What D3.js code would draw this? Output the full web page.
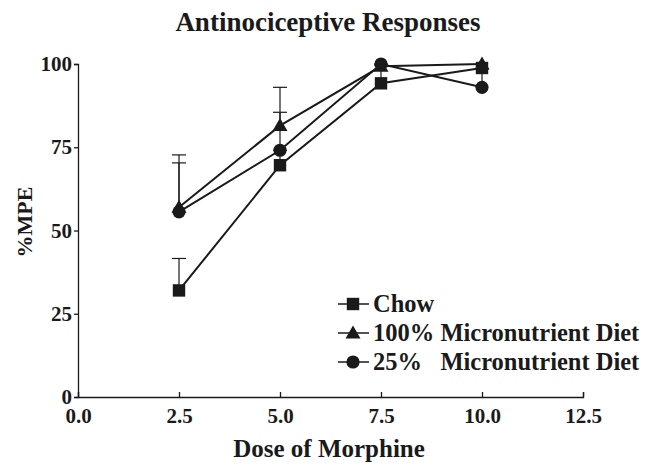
<!DOCTYPE html>
<html>
<head>
<meta charset="utf-8">
<script src="https://cdn.jsdelivr.net/npm/d3@7"></script>
<style>
  body { margin: 0; background: #fff; }
  text { font-family: "Liberation Serif", "Times New Roman", serif; font-weight: bold; fill: #1a1a1a; }
</style>
</head>
<body>
<div class="container"></div>
<script>
const doses = [2.5, 5.0, 7.5, 10.0]

const chow = [32, 69.6, 94.2, 98.8]
const chowErr = [9.6, 4.5, 5.5, 0]

const full = [57, 81.5, 99.3, 100]
const fullErr = [15.7, 11.5, 0.7, 0]

const quarter = [55.6, 74.1, 100, 93]
const quarterErr = [14.7, 11.4, 0, 5.5]

const xTicks = [0, 2.5, 5, 7.5, 10, 12.5]
const yTicks = [0, 25, 50, 75, 100]

const seriesNames = ['Chow', '100% Micronutrient Diet', '25%   Micronutrient Diet']

const ink = '#1a1a1a'
const width = 657, height = 465

const svg = d3.select('.container')
    .append('svg')
    .attr('width', width)
    .attr('height', height)

const x = d3.scaleLinear().domain([0, 12.5]).range([78, 583])
const y = d3.scaleLinear().domain([0, 100]).range([397, 64])

// axes
let xAxis = svg.append('g')
    .attr('transform', `translate(0,${y(0)})`)
    .call(d3.axisBottom(x).tickValues(xTicks).tickFormat(d3.format('.1f')).tickSize(-5).tickPadding(11))
let yAxis = svg.append('g')
    .attr('transform', `translate(${x(0)},0)`)
    .call(d3.axisLeft(y).tickValues(yTicks).tickSize(4).tickPadding(2))

;[xAxis, yAxis].forEach(g => {
    g.select('.domain').attr('stroke', ink).attr('stroke-width', 1.3)
    g.selectAll('.tick line').attr('stroke', ink).attr('stroke-width', 1.3)
    g.selectAll('.tick text')
        .attr('font-family', '"Liberation Serif", "Times New Roman", serif')
        .attr('font-weight', 'bold')
        .attr('font-size', 21)
        .attr('fill', ink)
})

// titles
svg.append('text')
    .attr('x', 328).attr('y', 31)
    .attr('text-anchor', 'middle')
    .attr('font-size', 27)
    .text('Antinociceptive Responses')

svg.append('text')
    .attr('x', 329).attr('y', 457)
    .attr('text-anchor', 'middle')
    .attr('font-size', 25)
    .text('Dose of Morphine')

svg.append('text')
    .attr('transform', 'translate(32,222) rotate(-90)')
    .attr('text-anchor', 'middle')
    .attr('font-size', 22)
    .text('%MPE')

// markers
let drawMarker = (g, shape, cx, cy) => {
    if (shape == 'square') {
        g.append('rect').attr('x', cx - 6.2).attr('y', cy - 6.2)
            .attr('width', 12.4).attr('height', 12.4).attr('fill', ink)
    } else if (shape == 'triangle') {
        g.append('path')
            .attr('d', `M${cx},${cy - 7.5}L${cx + 7.5},${cy + 5.5}L${cx - 7.5},${cy + 5.5}Z`)
            .attr('fill', ink)
    } else {
        g.append('circle').attr('cx', cx).attr('cy', cy).attr('r', 6.6).attr('fill', ink)
    }
}

let series = [
    { name: seriesNames[0], vals: chow, err: chowErr, shape: 'square' },
    { name: seriesNames[1], vals: full, err: fullErr, shape: 'triangle' },
    { name: seriesNames[2], vals: quarter, err: quarterErr, shape: 'circle' }
]

let line = d3.line().x(d => x(d[0])).y(d => y(d[1]))

// error bars (upper only)
series.forEach(s => {
    let g = svg.append('g')
    doses.forEach((d, i) => {
        if (s.err[i] <= 0) return
        let top = y(s.vals[i] + s.err[i])
        g.append('line').attr('x1', x(d)).attr('x2', x(d))
            .attr('y1', y(s.vals[i])).attr('y2', top)
            .attr('stroke', ink).attr('stroke-width', 1.2)
        g.append('line').attr('x1', x(d) - 7).attr('x2', x(d) + 7)
            .attr('y1', top).attr('y2', top)
            .attr('stroke', ink).attr('stroke-width', 1.2)
    })
})

// lines + markers
series.forEach(s => {
    let pts = doses.map((d, i) => [d, s.vals[i]])
    svg.append('path')
        .attr('d', line(pts))
        .attr('fill', 'none')
        .attr('stroke', ink)
        .attr('stroke-width', 2)
    let g = svg.append('g')
    pts.forEach(p => drawMarker(g, s.shape, x(p[0]), y(p[1])))
})

// legend
let legendRows = [304, 333, 362]
series.forEach((s, i) => {
    let g = svg.append('g')
    let ly = legendRows[i]
    g.append('line').attr('x1', 338).attr('x2', 369)
        .attr('y1', ly).attr('y2', ly)
        .attr('stroke', ink).attr('stroke-width', 1.5)
    drawMarker(g, s.shape, 353, ly)
    g.append('text')
        .attr('x', 373).attr('y', ly + 8)
        .attr('font-size', 24.5)
        .style('white-space', 'pre')
        .text(s.name)
})
</script>
</body>
</html>
